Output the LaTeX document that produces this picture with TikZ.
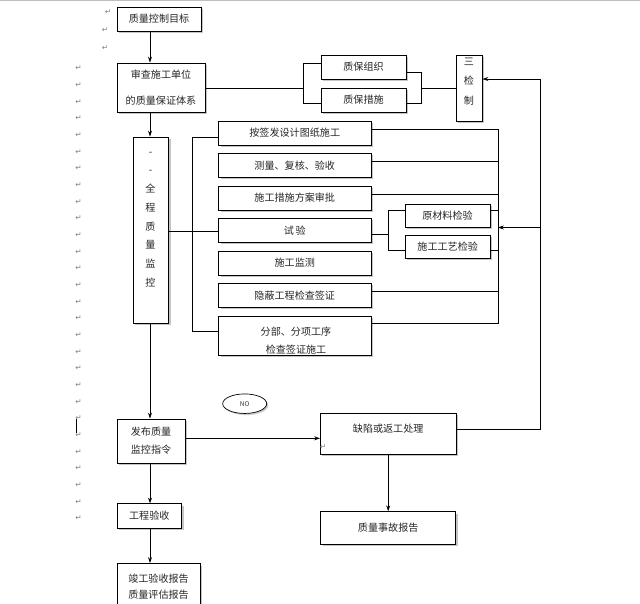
\documentclass[tikz,border=0pt]{standalone}
\usepackage{fontspec}
\setmainfont{Noto Sans CJK SC}
\newfontfamily\markfont{DejaVu Sans}
\usetikzlibrary{arrows.meta,shadows,shapes.geometric}
\tikzset{
  box/.style={draw=black, line width=0.7pt, fill=white, inner sep=0pt,
    font=\fontsize{8.6}{10}\selectfont, text=black!85,
    drop shadow={shadow xshift=0.6mm, shadow yshift=-0.6mm, fill=black!45}},
  txt/.style={font=\fontsize{8.6}{10}\selectfont, text=black!85, inner sep=0pt},
  ln/.style={line width=0.7pt},
  arr/.style={ln, -{Stealth[length=5pt,width=3.4pt]}},
  pm/.style={font=\markfont\fontsize{6.5}{7}\selectfont, text=black!50, inner sep=0pt}
}
\begin{document}
\begin{tikzpicture}[x=0.3mm,y=-0.3mm]
\useasboundingbox (0,0) rectangle (640,604);
\clip (0,0) rectangle (640,604);
\fill[white] (0,0) rectangle (640,604);
\fill[black!25] (0,0) rectangle (640,1.5);

% boxes
\node[box, minimum width=25.2mm, minimum height=7.2mm] (goal) at (159,19) {质量控制目标};
\node[box, minimum width=26.4mm, minimum height=14.7mm, align=center, font=\fontsize{8.6}{22.7}\selectfont] (review) at (161,87.5) {审查施工单位\\的质量保证体系};
\node[box, minimum width=25.5mm, minimum height=7.2mm] (org) at (363.5,67) {质保组织};
\node[box, minimum width=25.5mm, minimum height=7.2mm] (meas) at (363.5,100) {质保措施};
\node[box, minimum width=7.8mm, minimum height=19.8mm] (sanjian) at (469,88) {};
\node[txt, align=center, font=\fontsize{8.6}{16.8}\selectfont] (sanjiant) at (469,81.5) {三\\检\\制};
\node[box, minimum width=10.65mm, minimum height=55.8mm] (full) at (150.8,230) {};
\node[txt, align=center, font=\fontsize{8.6}{16}\selectfont] (fullt) at (150.5,219.5) {-\\-\\全\\程\\质\\量\\监\\控};

\node[box, minimum width=45.75mm, minimum height=7.2mm] (m1) at (294.75,133) {按签发设计图纸施工};
\node[box, minimum width=45.75mm, minimum height=7.2mm] (m2) at (294.75,165.5) {测量、复核、验收};
\node[box, minimum width=45.75mm, minimum height=7.2mm] (m3) at (294.75,198) {施工措施方案审批};
\node[box, minimum width=45.75mm, minimum height=7.2mm] (m4) at (294.75,230.5) {试\,验};
\node[box, minimum width=45.75mm, minimum height=7.2mm] (m5) at (294.75,263) {施工监测};
\node[box, minimum width=45.75mm, minimum height=7.2mm] (m6) at (294.75,295.5) {隐蔽工程检查签证};
\node[box, minimum width=45.75mm, minimum height=11.7mm] (m7) at (294.75,335.5) {};
\node[txt, align=center, font=\fontsize{8.6}{15}\selectfont] (m7t) at (296,340.5) {分部、分项工序\\检查签证施工};

\node[box, minimum width=25.5mm, minimum height=6.9mm] (raw) at (447.5,216) {原材料检验};
\node[box, minimum width=25.5mm, minimum height=6.9mm] (craft) at (447.7,247) {施工工艺检验};

\node[draw, ellipse, line width=0.6pt, fill=white, minimum width=13.2mm, minimum height=5.85mm, inner sep=0pt,
  font=\fontsize{5.5}{6}\selectfont, text=black!80,
  drop shadow={shadow xshift=0.5mm, shadow yshift=-0.5mm, fill=black!40}] (no) at (244.7,403.7) {NO};

\node[box, minimum width=20.4mm, minimum height=13.2mm, align=center, font=\fontsize{8.6}{15.1}\selectfont] (release) at (151,441) {发布质量\\监控指令};
\node[box, minimum width=40.65mm, minimum height=12.2mm] (defect) at (388.2,433.7) {};
\node[txt] (defectt) at (388.2,428.3) {缺陷或返工处理};
\node[box, minimum width=19.35mm, minimum height=7.3mm] (accept) at (149.3,516) {工程验收};
\node[box, minimum width=24.9mm, minimum height=17.1mm] (final) at (158.5,592) {};
\node[txt, align=center, font=\fontsize{8.6}{13.7}\selectfont] (finalt) at (158.5,587) {竣工验收报告\\质量评估报告};
\node[box, minimum width=40.5mm, minimum height=9.7mm] (report) at (388.2,527.8) {质量事故报告};

% coordinates
\coordinate (spine) at (150,0);
\coordinate (lb) at (303,63);
\coordinate (lbm) at (303,88);
\coordinate (lbb) at (303,103);
\coordinate (rb) at (421,72);
\coordinate (rbm) at (421,88);
\coordinate (rbb) at (421,103);
\coordinate (rv1) at (540,79);
\coordinate (rv2) at (540,429);
\coordinate (rva) at (540,227.5);
\coordinate (mr1) at (498,129.3);
\coordinate (mr2) at (498,161.7);
\coordinate (mr3) at (498,194);
\coordinate (mr6) at (498,291.7);
\coordinate (mr7) at (498,323.3);
\coordinate (mrs1) at (498,210);
\coordinate (mrs2) at (498,250.7);
\coordinate (sb1) at (388,210);
\coordinate (sbm) at (388,234);
\coordinate (sb2) at (388,250.7);
\coordinate (lb1) at (192,137.7);
\coordinate (lb7) at (192,331.7);
\coordinate (fl) at (192,231.7);
\coordinate (rl) at (250,438.3);

% connectors
\draw[arr] (goal.south -| spine) -- (review.north -| spine);
\draw[arr] (review.south -| spine) -- (full.north -| spine);
\draw[arr] (full.south -| spine) -- (release.north -| spine);
\draw[arr] (release.south -| spine) -- (accept.north -| spine);
\draw[arr] (accept.south -| spine) -- (final.north -| spine);
\draw[arr] (release.east |- rl) -- (defect.west |- rl);
\draw[arr] (defect.south) -- (report.north);

\draw[ln] (review.east |- lbm) -- (lbm);
\draw[ln] (org.west |- lb) -- (lb) -- (lbb) -- (meas.west |- lbb);
\draw[ln] (org.east |- rb) -- (rb) -- (rbb) -- (meas.east |- rbb);
\draw[ln] (rbm) -- (sanjian.west |- rbm);
\draw[arr] (defect.east |- rv2) -- (rv2) -- (rv1) -- (sanjian.east |- rv1);

\draw[ln] (m1.east |- mr1) -- (mr1) -- (mr7) -- (m7.east |- mr7);
\draw[ln] (m2.east |- mr2) -- (mr2);
\draw[ln] (m3.east |- mr3) -- (mr3);
\draw[ln] (m6.east |- mr6) -- (mr6);
\draw[ln] (raw.east |- mrs1) -- (mrs1);
\draw[ln] (craft.east |- mrs2) -- (mrs2);
\draw[arr] (rva) -- (mr1 |- rva);
\draw[ln] (m4.east |- sbm) -- (sbm);
\draw[ln] (raw.west |- sb1) -- (sb1) -- (sb2) -- (craft.west |- sb2);
\draw[ln] (m1.west |- lb1) -- (lb1) -- (lb7) -- (m7.west |- lb7);
\draw[ln] (full.east |- fl) -- (m4.west |- fl);

% paragraph marks
\node[pm] (pt1) at (108,11.7) {↵};
\node[pm] (pt2) at (105,30) {↵};
\node[pm] (pt3) at (105,48.3) {↵};
\foreach \i in {0,...,27} \node[pm] (pc\i) at (78.5,{68.3+16.67*\i}) {↵};
\node[pm] (pd) at (323,446.7) {↵};
\draw[line width=1.1pt] (76.5,419) -- (76.5,433);
\end{tikzpicture}
\end{document}
